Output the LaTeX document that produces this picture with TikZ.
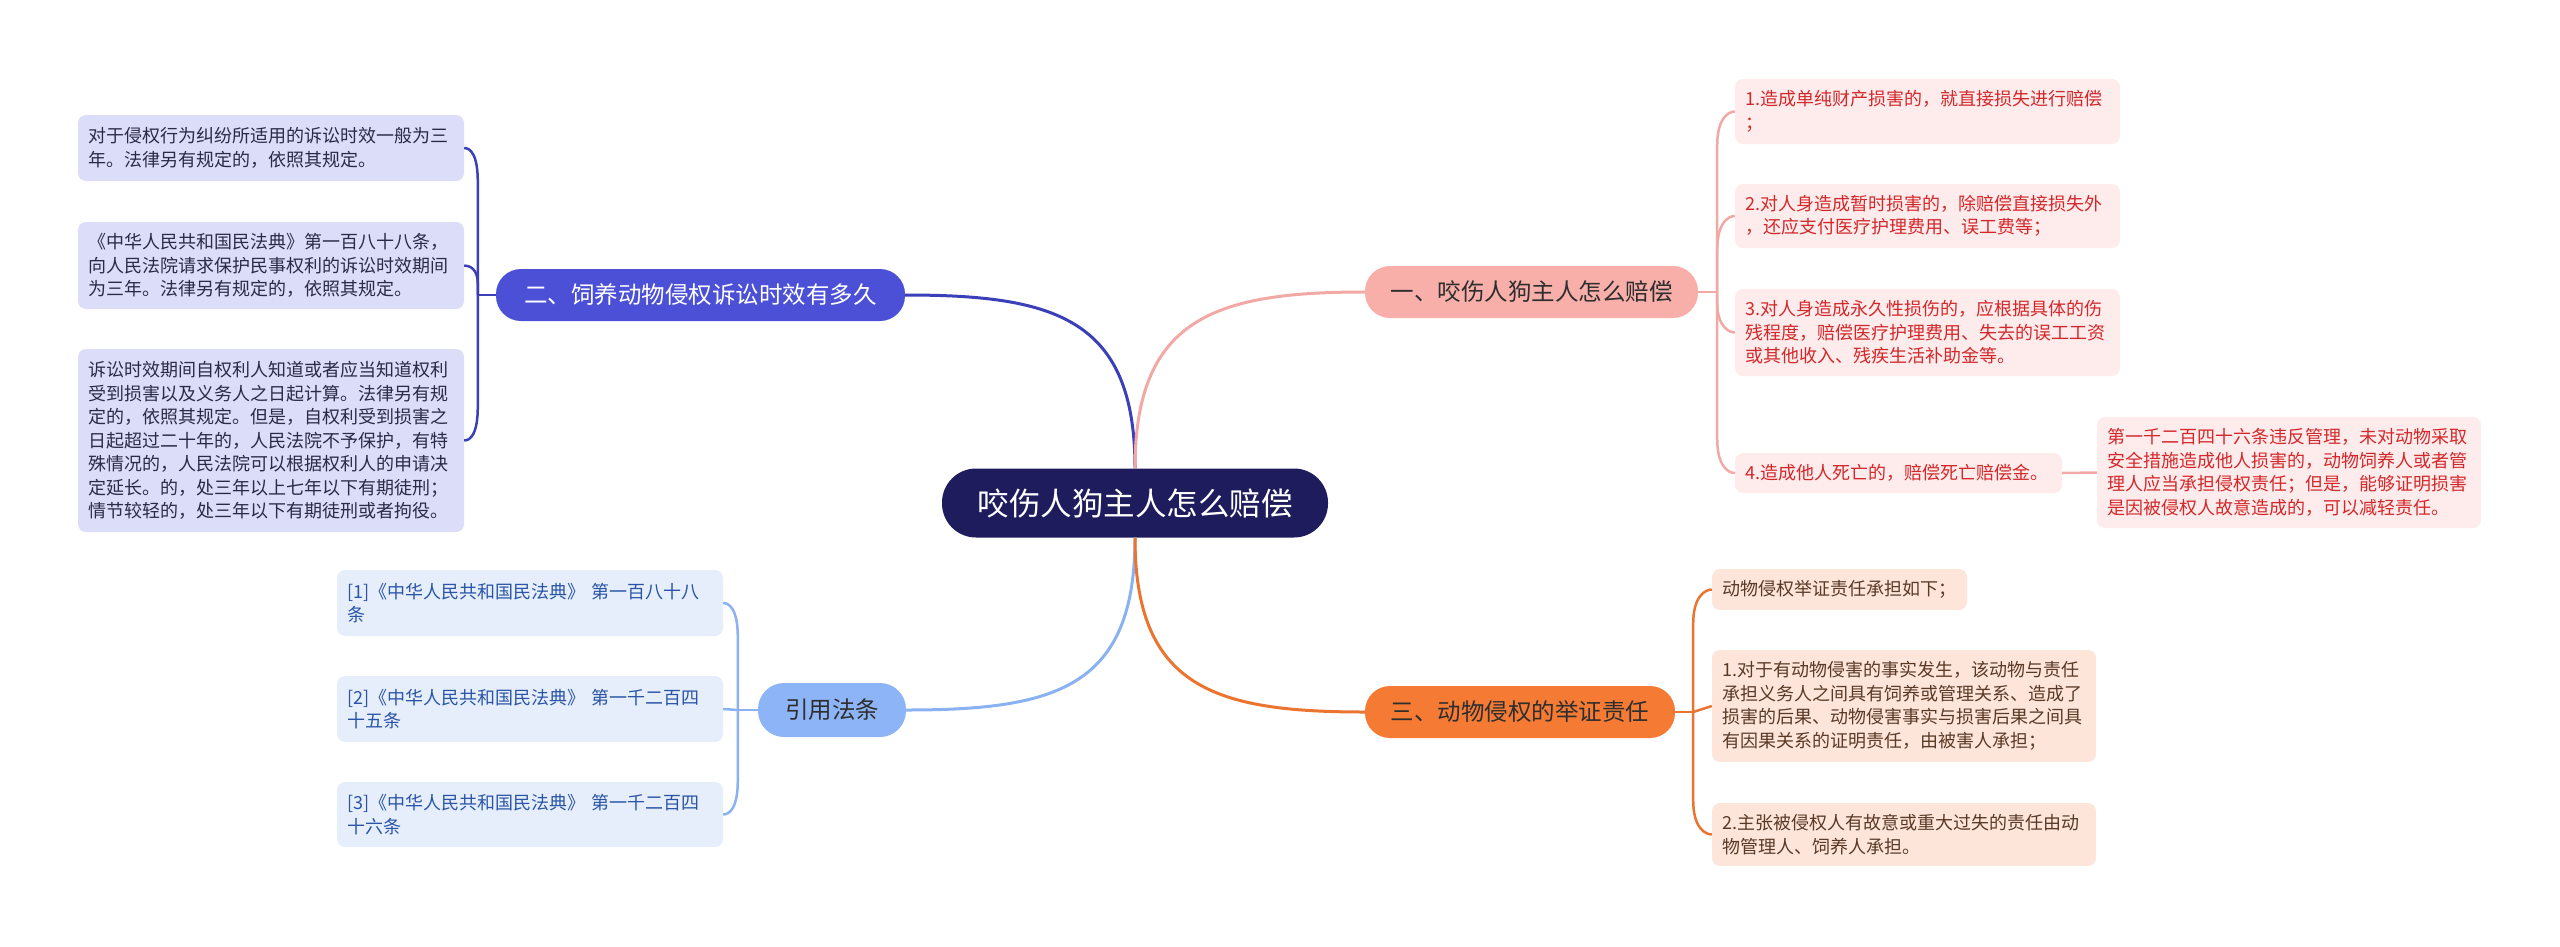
\documentclass[tikz,border=0pt]{standalone}
\usepackage{fontspec}
\setmainfont{Noto Sans CJK SC}
\definecolor{cNavy}{HTML}{1E1C5C}
\definecolor{bBlue}{HTML}{4B50D6}
\definecolor{lBlue}{HTML}{3B3FB8}
\definecolor{bPink}{HTML}{F8AFAA}
\definecolor{lPink}{HTML}{F2A9A6}
\definecolor{bOrange}{HTML}{F57B35}
\definecolor{lOrange}{HTML}{EA7430}
\definecolor{bSky}{HTML}{8DB4F6}
\definecolor{lSky}{HTML}{8AB1F1}
\definecolor{fLav}{HTML}{DCDDF8}
\definecolor{tLav}{HTML}{2B2B45}
\definecolor{fCite}{HTML}{E6EEFC}
\definecolor{tCite}{HTML}{2A55A6}
\definecolor{fPinkL}{HTML}{FDECEB}
\definecolor{tPinkL}{HTML}{D3282B}
\definecolor{fPeach}{HTML}{FDE5D9}
\definecolor{tPeach}{HTML}{5A3A27}
\definecolor{tDark}{HTML}{2E2E2E}
\tikzset{
  leafbox/.style={rounded corners=8pt, inner xsep=10pt, inner ysep=4pt, align=left, anchor=center,
    font=\fontsize{18}{23.5}\selectfont},
  lavleaf/.style={leafbox, fill=fLav, text=tLav},
  citeleaf/.style={leafbox, fill=fCite, text=tCite},
  pinkleaf/.style={leafbox, fill=fPinkL, text=tPinkL},
  peachleaf/.style={leafbox, fill=fPeach, text=tPeach},
  branchbox/.style={rounded corners=25pt, minimum height=52pt, inner sep=0pt, anchor=center,
    font=\fontsize{23.5}{28}\selectfont},
  mainline/.style={line width=3pt},
  subline/.style={line width=2.5pt},
}
\begin{document}
\begin{tikzpicture}[x=1pt,y=-1pt]
\useasboundingbox (0,0) rectangle (2560,946);

% central
\node[rounded corners=34pt, fill=cNavy, text=white, minimum width=386pt, minimum height=69pt, inner sep=0pt,
  font=\fontsize{31.5}{36}\selectfont] (c) at (1135,503) {咬伤人狗主人怎么赔偿};

% branches
\node[branchbox, fill=bPink, text=tDark, minimum width=333pt] (b1) at (1531.5,292) {一、咬伤人狗主人怎么赔偿};
\node[branchbox, fill=bBlue, text=white, minimum width=409pt] (b2) at (700.5,295) {二、饲养动物侵权诉讼时效有多久};
\node[branchbox, fill=bOrange, text=tDark, minimum width=310pt] (b3) at (1520,712) {三、动物侵权的举证责任};
\node[branchbox, fill=bSky, text=tDark, minimum width=148pt, minimum height=54pt, rounded corners=26pt] (b4) at (832,710) {引用法条};

% left leaves
\node[lavleaf, text width=366pt, minimum height=66pt] (l1) at (271,148) {对于侵权行为纠纷所适用的诉讼时效一般为三\\年。法律另有规定的，依照其规定。};
\node[lavleaf, text width=366pt, minimum height=87pt] (l2) at (271,265.5) {《中华人民共和国民法典》第一百八十八条，\\向人民法院请求保护民事权利的诉讼时效期间\\为三年。法律另有规定的，依照其规定。};
\node[lavleaf, text width=366pt, minimum height=183pt] (l3) at (271,440.5) {诉讼时效期间自权利人知道或者应当知道权利\\受到损害以及义务人之日起计算。法律另有规\\定的，依照其规定。但是，自权利受到损害之\\日起超过二十年的，人民法院不予保护，有特\\殊情况的，人民法院可以根据权利人的申请决\\定延长。的，处三年以上七年以下有期徒刑；\\情节较轻的，处三年以下有期徒刑或者拘役。};

% citation leaves
\node[citeleaf, text width=366pt, minimum height=66pt] (k1) at (530,603) {[1]《中华人民共和国民法典》 第一百八十八\\条};
\node[citeleaf, text width=366pt, minimum height=66pt] (k2) at (530,709) {[2]《中华人民共和国民法典》 第一千二百四\\十五条};
\node[citeleaf, text width=366pt, minimum height=65pt] (k3) at (530,814.5) {[3]《中华人民共和国民法典》 第一千二百四\\十六条};

% pink leaves
\node[pinkleaf, text width=365pt, minimum height=65pt] (r1) at (1927.5,111.5) {1.造成单纯财产损害的，就直接损失进行赔偿\\；};
\node[pinkleaf, text width=365pt, minimum height=64pt] (r2) at (1927.5,216) {2.对人身造成暂时损害的，除赔偿直接损失外\\，还应支付医疗护理费用、误工费等；};
\node[pinkleaf, text width=365pt, minimum height=87pt] (r3) at (1927.5,332.5) {3.对人身造成永久性损伤的，应根据具体的伤\\残程度，赔偿医疗护理费用、失去的误工工资\\或其他收入、残疾生活补助金等。};
\node[pinkleaf, text width=307pt, minimum height=40pt] (r4) at (1898.5,473) {4.造成他人死亡的，赔偿死亡赔偿金。};
\node[pinkleaf, text width=364pt, minimum height=111pt] (r5) at (2289,472.5) {第一千二百四十六条违反管理，未对动物采取\\安全措施造成他人损害的，动物饲养人或者管\\理人应当承担侵权责任；但是，能够证明损害\\是因被侵权人故意造成的，可以减轻责任。};

% peach leaves
\node[peachleaf, text width=235pt, minimum height=41pt] (o1) at (1839.5,589.5) {动物侵权举证责任承担如下；};
\node[peachleaf, text width=364pt, minimum height=112pt] (o2) at (1904,706) {1.对于有动物侵害的事实发生，该动物与责任\\承担义务人之间具有饲养或管理关系、造成了\\损害的后果、动物侵害事实与损害后果之间具\\有因果关系的证明责任，由被害人承担；};
\node[peachleaf, text width=364pt, minimum height=63pt] (o3) at (1904,834.5) {2.主张被侵权人有故意或重大过失的责任由动\\物管理人、饲养人承担。};

% main connectors
\draw[mainline, lBlue] (c.north) .. controls +(0,-150) and +(150,0) .. (b2.east);
\draw[mainline, lPink] (c.north) .. controls +(0,-150) and +(-150,0) .. (b1.west);
\draw[mainline, lSky] (c.south) .. controls +(0,150) and +(150,0) .. (b4.east);
\draw[mainline, lOrange] (c.south) .. controls +(0,150) and +(-150,0) .. (b3.west);

% spines
\coordinate (s2) at ([xshift=-18pt]b2.west);
\coordinate (s1) at ([xshift=19pt]b1.east);
\coordinate (s3) at ([xshift=18pt]b3.east);
\coordinate (s4) at ([xshift=-20pt]b4.west);

\begin{scope}[subline, lBlue]
\draw (b2.west) -- (s2);
\draw (s2) -- ([yshift=-34pt]s2 |- l1.east) .. controls ([yshift=-6pt]s2 |- l1.east) and ([xshift=6pt]l1.east) .. (l1.east);
\draw (s2) -- ([yshift=-18pt]s2 |- l2.east) .. controls ([yshift=-4pt]s2 |- l2.east) and ([xshift=6pt]l2.east) .. (l2.east);
\draw (s2) -- ([yshift=34pt]s2 |- l3.east) .. controls ([yshift=6pt]s2 |- l3.east) and ([xshift=6pt]l3.east) .. (l3.east);
\end{scope}

\begin{scope}[subline, lSky]
\draw (b4.west) -- (s4);
\draw (s4) -- ([yshift=-34pt]s4 |- k1.east) .. controls ([yshift=-6pt]s4 |- k1.east) and ([xshift=6pt]k1.east) .. (k1.east);
\draw (s4) -- (k2.east);
\draw (s4) -- ([yshift=34pt]s4 |- k3.east) .. controls ([yshift=6pt]s4 |- k3.east) and ([xshift=6pt]k3.east) .. (k3.east);
\end{scope}

\begin{scope}[subline, lPink]
\draw (b1.east) -- (s1);
\draw (s1) -- ([yshift=-34pt]s1 |- r1.west) .. controls ([yshift=-6pt]s1 |- r1.west) and ([xshift=-6pt]r1.west) .. (r1.west);
\draw (s1) -- ([yshift=-34pt]s1 |- r2.west) .. controls ([yshift=-6pt]s1 |- r2.west) and ([xshift=-6pt]r2.west) .. (r2.west);
\draw (s1) -- ([yshift=30pt]s1 |- r3.west) .. controls ([yshift=6pt]s1 |- r3.west) and ([xshift=-6pt]r3.west) .. (r3.west);
\draw (s1) -- ([yshift=34pt]s1 |- r4.west) .. controls ([yshift=6pt]s1 |- r4.west) and ([xshift=-6pt]r4.west) .. (r4.west);
\draw (r4.east) -- (r5.west);
\end{scope}

\begin{scope}[subline, lOrange]
\draw (b3.east) -- (s3);
\draw (s3) -- ([yshift=-34pt]s3 |- o1.west) .. controls ([yshift=-6pt]s3 |- o1.west) and ([xshift=-6pt]o1.west) .. (o1.west);
\draw (s3) -- (o2.west);
\draw (s3) -- ([yshift=34pt]s3 |- o3.west) .. controls ([yshift=6pt]s3 |- o3.west) and ([xshift=-6pt]o3.west) .. (o3.west);
\end{scope}
\end{tikzpicture}
\end{document}
